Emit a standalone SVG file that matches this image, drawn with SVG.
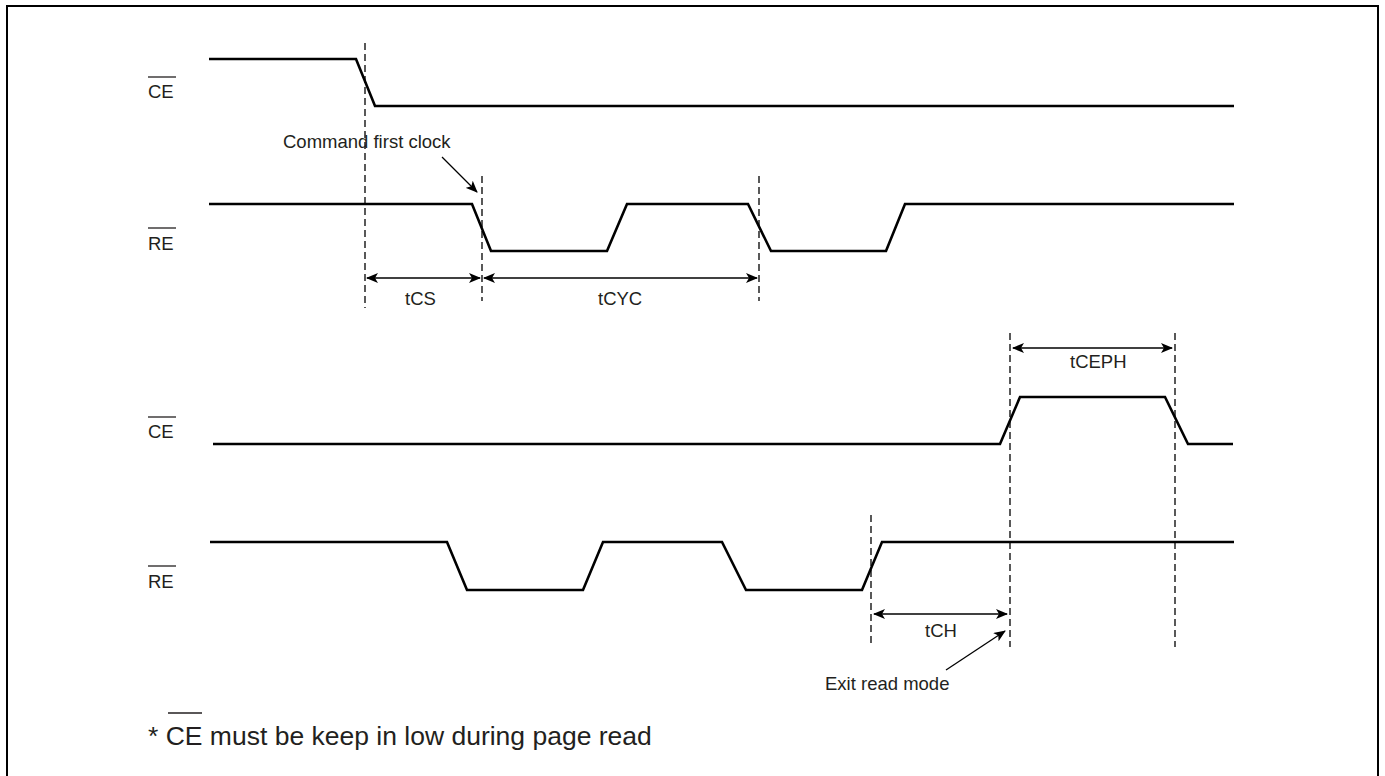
<svg xmlns="http://www.w3.org/2000/svg" width="1385" height="776" viewBox="0 0 1385 776">
<defs>
<style>
.wave{fill:none;stroke:#000;stroke-width:2.6;stroke-linejoin:miter}
.dash{fill:none;stroke:#000;stroke-width:1.3;stroke-dasharray:7,4}
.dim{fill:none;stroke:#000;stroke-width:1.3}
.lbl{font-family:"Liberation Sans",Arial,sans-serif;font-size:18.5px;fill:#231f20}
.ov{stroke:#231f20;stroke-width:1.3}
</style>
<marker id="ah" viewBox="0 0 12 10" refX="11" refY="5" markerWidth="12" markerHeight="10" markerUnits="userSpaceOnUse" orient="auto-start-reverse">
<path d="M0,0 L12,5 L0,10 L3,5 z" fill="#000"/>
</marker>
</defs>
<rect x="7" y="6" width="1371" height="800" fill="#fff" stroke="#000" stroke-width="2"/>

<g id="ce1">
<text class="lbl" x="148" y="98">CE</text>
<line class="ov" x1="148" y1="77" x2="176" y2="77"/>
<polyline class="wave" points="209,59 356,59 375,106 1234,106"/>
</g>

<g id="re1">
<text class="lbl" x="148" y="250">RE</text>
<line class="ov" x1="148" y1="228" x2="176" y2="228"/>
<polyline class="wave" points="209,204 472,204 491,251 607,251 627,204 748,204 771,251 886,251 905,204 1234,204"/>
</g>

<g id="ce2">
<text class="lbl" x="148" y="438">CE</text>
<line class="ov" x1="148" y1="417" x2="176" y2="417"/>
<polyline class="wave" points="213,444 1000,444 1020,397 1165,397 1188,444 1233,444"/>
</g>

<g id="re2">
<text class="lbl" x="148" y="588">RE</text>
<line class="ov" x1="148" y1="566" x2="176" y2="566"/>
<polyline class="wave" points="210,542 447,542 467,590 583,590 603,542 722,542 746,590 862,590 882,542 1234,542"/>
</g>

<g id="connectors">
<line class="dash" x1="365" y1="43" x2="365" y2="308"/>
<line class="dash" x1="482" y1="176" x2="482" y2="301"/>
<line class="dash" x1="759" y1="176" x2="759" y2="301"/>
<line class="dash" x1="1010" y1="333" x2="1010" y2="647"/>
<line class="dash" x1="1175" y1="333" x2="1175" y2="647"/>
<line class="dash" x1="871" y1="515" x2="871" y2="647"/>
<line class="dim" x1="367" y1="278" x2="480" y2="278" marker-start="url(#ah)" marker-end="url(#ah)"/>
<line class="dim" x1="484" y1="278" x2="757" y2="278" marker-start="url(#ah)" marker-end="url(#ah)"/>
<line class="dim" x1="1013" y1="348" x2="1172" y2="348" marker-start="url(#ah)" marker-end="url(#ah)"/>
<line class="dim" x1="874" y1="614" x2="1007" y2="614" marker-start="url(#ah)" marker-end="url(#ah)"/>
<line class="dim" x1="442" y1="157" x2="477" y2="192" marker-end="url(#ah)"/>
<line class="dim" x1="946" y1="670" x2="1005" y2="631" marker-end="url(#ah)"/>
</g>

<g id="labels">
<text class="lbl" x="283" y="148">Command first clock</text>
<text class="lbl" x="405" y="305">tCS</text>
<text class="lbl" x="598" y="305">tCYC</text>
<text class="lbl" x="1070" y="368">tCEPH</text>
<text class="lbl" x="925" y="637">tCH</text>
<text class="lbl" x="825" y="690">Exit read mode</text>
</g>

<g id="note">
<text class="lbl" x="148" y="745" style="font-size:26.5px">* CE must be keep in low during page read</text>
<line class="ov" x1="168" y1="713" x2="202" y2="713"/>
</g>
</svg>
